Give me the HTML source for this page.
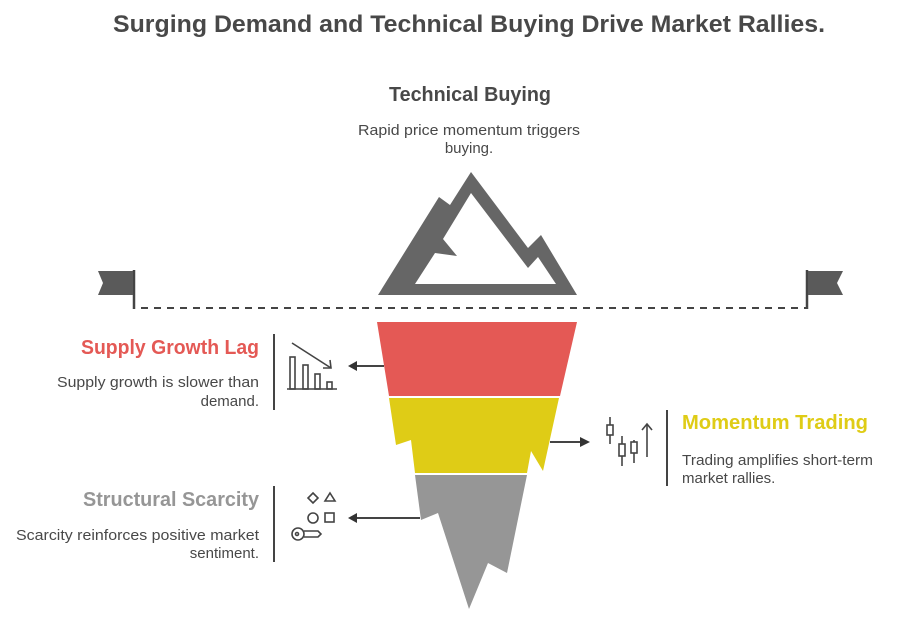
<!DOCTYPE html>
<html><head><meta charset="utf-8"><style>html,body{margin:0;padding:0;background:#fff}svg{display:block}</style></head>
<body>
<svg width="902" height="617" viewBox="0 0 902 617" xmlns="http://www.w3.org/2000/svg" font-family="Liberation Sans, sans-serif">
<text x="469" y="32" text-anchor="middle" font-size="24" font-weight="bold" fill="#484848" textLength="712" lengthAdjust="spacingAndGlyphs">Surging Demand and Technical Buying Drive Market Rallies.</text>
<text x="470" y="101" text-anchor="middle" font-size="20" font-weight="bold" fill="#484848" textLength="162" lengthAdjust="spacingAndGlyphs">Technical Buying</text>
<text x="469" y="135" text-anchor="middle" font-size="15" fill="#484848" textLength="222" lengthAdjust="spacingAndGlyphs">Rapid price momentum triggers</text>
<text x="469" y="153" text-anchor="middle" font-size="15" fill="#484848">buying.</text>

<path fill="#666" fill-rule="evenodd" d="M378,295 L439,197 L450,205 L471,172 L528,248 L541,235 L577,295 Z M415,284 L435,253 L457,256 L443,239 L471,193 L528,268 L538,257 L556,284 Z"/>

<line x1="141" y1="308" x2="807" y2="308" stroke="#444" stroke-width="2" stroke-dasharray="7,6"/>
<line x1="134" y1="270" x2="134" y2="309" stroke="#444" stroke-width="2.5"/>
<polygon points="98,271 133,271 133,295 98,295 103,283" fill="#5a5a5a"/>
<line x1="807" y1="270" x2="807" y2="309" stroke="#444" stroke-width="2.5"/>
<polygon points="808,271 843,271 837,283 843,295 808,295" fill="#5a5a5a"/>

<polygon points="377,322 577,322 560,396 389,396" fill="#e45955"/>
<polygon points="389,398 559,398 543,471 531,451 527,473 415,473 411,440 396,445" fill="#dfcc16"/>
<polygon points="415,475 527,475 507,573 488,563 469,609 438,513 421,520" fill="#969696"/>

<line x1="356" y1="366" x2="384" y2="366" stroke="#444" stroke-width="2"/>
<polygon points="348,366 357,361 357,371" fill="#333"/>
<line x1="356" y1="518" x2="420" y2="518" stroke="#444" stroke-width="2"/>
<polygon points="348,518 357,513 357,523" fill="#333"/>
<line x1="550" y1="442" x2="583" y2="442" stroke="#444" stroke-width="2"/>
<polygon points="590,442 580,437 580,447" fill="#333"/>

<g stroke="#444" stroke-width="1.6" fill="none">
<line x1="292" y1="343" x2="331" y2="368"/><polyline points="323,368 331,368 330,360"/>
<line x1="287" y1="389" x2="337" y2="389"/>
<rect x="290" y="357" width="5" height="32"/><rect x="303" y="365" width="5" height="24"/><rect x="315" y="374" width="5" height="15"/><rect x="327" y="382" width="5" height="7"/>
<polygon points="313,493 318,498 313,503 308,498"/><polygon points="330,493 335,501 325,501"/>
<circle cx="313" cy="518" r="5"/><rect x="325" y="513" width="9" height="9"/>
<circle cx="298" cy="534" r="6"/><circle cx="297" cy="534" r="1.5"/><path d="M304,531 H318 L321,534 L318,537 H304"/>
<line x1="610" y1="417" x2="610" y2="444"/><rect x="607" y="425" width="6" height="10" fill="#fff"/>
<line x1="622" y1="436" x2="622" y2="466"/><rect x="619" y="444" width="6" height="12" fill="#fff"/>
<line x1="634" y1="440" x2="634" y2="463"/><rect x="631" y="442" width="6" height="11" fill="#fff"/>
<line x1="647" y1="424" x2="647" y2="457"/><polyline points="642,430 647,424 652,430"/>
</g>

<line x1="274" y1="334" x2="274" y2="410" stroke="#444" stroke-width="2"/>
<line x1="274" y1="486" x2="274" y2="562" stroke="#444" stroke-width="2"/>
<line x1="667" y1="410" x2="667" y2="486" stroke="#444" stroke-width="2"/>

<text x="259" y="354" text-anchor="end" font-size="20" font-weight="bold" fill="#e45955" textLength="178" lengthAdjust="spacingAndGlyphs">Supply Growth Lag</text>
<text x="259" y="387" text-anchor="end" font-size="15" fill="#484848" textLength="202" lengthAdjust="spacingAndGlyphs">Supply growth is slower than</text>
<text x="259" y="406" text-anchor="end" font-size="15" fill="#484848">demand.</text>

<text x="259" y="506" text-anchor="end" font-size="20" font-weight="bold" fill="#969696" textLength="176" lengthAdjust="spacingAndGlyphs">Structural Scarcity</text>
<text x="259" y="540" text-anchor="end" font-size="15" fill="#484848" textLength="243" lengthAdjust="spacingAndGlyphs">Scarcity reinforces positive market</text>
<text x="259" y="558" text-anchor="end" font-size="15" fill="#484848">sentiment.</text>

<text x="682" y="429" font-size="20" font-weight="bold" fill="#dfcc16" textLength="186" lengthAdjust="spacingAndGlyphs">Momentum Trading</text>
<text x="682" y="465" font-size="15" fill="#484848" textLength="191" lengthAdjust="spacingAndGlyphs">Trading amplifies short-term</text>
<text x="682" y="483" font-size="15" fill="#484848">market rallies.</text>
</svg>
</body></html>
